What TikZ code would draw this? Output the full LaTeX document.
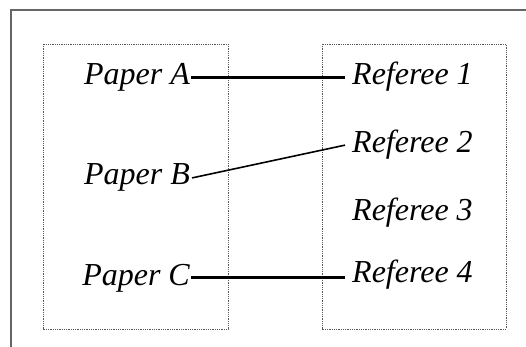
\documentclass[tikz,border=0pt]{standalone}
\usepackage{fontspec}
\setmainfont{Liberation Serif}
\begin{document}
\begin{tikzpicture}[x=1pt,y=-1pt,
  frame/.style={draw=black!60,line width=1.8pt},
  group/.style={draw=black!65,densely dotted,line width=0.8pt},
  paper/.style={font=\fontsize{32}{36}\selectfont\itshape,inner xsep=1pt,inner ysep=0pt,anchor=base east},
  referee/.style={font=\fontsize{32}{36}\selectfont\itshape,inner xsep=7pt,inner ysep=0pt,anchor=base west},
  link/.style={line width=3pt},
  thinlink/.style={line width=1.6pt}]
\useasboundingbox (0,0) rectangle (526,347);
\draw[frame] (11,350) -- (11,10) -- (530,10);
\draw[group] (43,44) rectangle (228,329);
\draw[group] (322,44) rectangle (506,329);
\node[paper] (PA) at (191,85) {Paper A};
\node[paper] (PB) at (191,185) {Paper B};
\node[paper] (PC) at (191,285) {Paper C};
\node[referee] (R1) at (345,85) {Referee 1};
\node[referee] (R2) at (345,153) {Referee 2};
\node[referee] (R3) at (345,220) {Referee 3};
\node[referee] (R4) at (345,282) {Referee 4};
\draw[link] (PA.east) -- (PA.east -| R1.west);
\draw[thinlink] ([xshift=1pt]PB.east) -- (R2.west);
\draw[link] (PC.east) -- (PC.east -| R4.west);
\end{tikzpicture}
\end{document}
